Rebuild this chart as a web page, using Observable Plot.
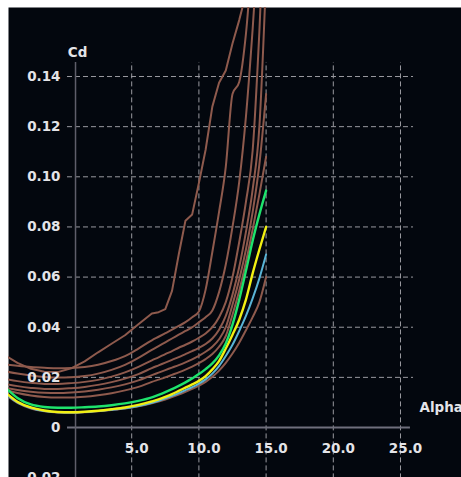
<!DOCTYPE html>
<html>
<head>
<meta charset="utf-8">
<script src="https://cdn.jsdelivr.net/npm/d3@7"></script>
<script src="https://cdn.jsdelivr.net/npm/@observablehq/plot@0.6"></script>
<style>
  html, body { margin: 0; padding: 0; background: #ffffff; }
</style>
</head>
<body>
<div id="chart"></div>
<script>
// ---- data ----
const alpha = [-4.5,-3.5,-2.5,-1.5,-0.5,0.5,1.5,2.5,3.5,4.5,5.5,6.5,7,7.5,8,8.5,9,9.5,10,10.5,11,11.5,12,12.5,13,13.5,14,14.5,15];

const cdA = [.0290,.0258,.0234,.0222,.0221,.0236,.0264,.0300,.0334,.0368,.0412,.0455,.0460,.0472,.0545,.0690,.0825,.0850,.0975,.1108,.1280,.1375,.1424,.1532,.1625,.1730,.1850,.2000,.2150];
const cdB = [.0252,.0246,.0241,.0238,.0236,.0237,.0241,.0250,.0265,.0285,.0315,.0348,.0362,.0376,.0390,.0405,.0420,.0440,.0463,.0550,.0700,.0860,.1040,.1330,.1378,.1570,.1900,.2200,.2500];
const cdC = [.0225,.0215,.0207,.0201,.0199,.0200,.0205,.0215,.0230,.0250,.0278,.0310,.0325,.0340,.0355,.0370,.0385,.0400,.0420,.0440,.0467,.0540,.0650,.0800,.0980,.1240,.1590,.2000,.2500];
const cdD = [.0195,.0185,.0178,.0174,.0174,.0177,.0182,.0190,.0203,.0220,.0242,.0268,.0280,.0293,.0305,.0318,.0330,.0343,.0358,.0375,.0400,.0440,.0500,.0600,.0740,.0900,.1105,.1580,.2200];
const cdE = [.0175,.0165,.0158,.0154,.0154,.0157,.0162,.0170,.0181,.0195,.0213,.0237,.0248,.0259,.0270,.0281,.0293,.0305,.0318,.0333,.0355,.0390,.0445,.0530,.0640,.0780,.0950,.1200,.1800];
const cdF = [.0160,.0150,.0143,.0139,.0138,.0140,.0144,.0151,.0160,.0172,.0188,.0209,.0219,.0229,.0239,.0249,.0260,.0272,.0286,.0302,.0322,.0352,.0400,.0490,.0590,.0710,.0860,.1050,.1330];
const cdH = [.0152,.0138,.0128,.0122,.0120,.0120,.0123,.0129,.0137,.0148,.0162,.0182,.0191,.0200,.0210,.0220,.0231,.0243,.0257,.0273,.0293,.0322,.0365,.0450,.0545,.0660,.0790,.0930,.1080];
const cdG = [.0138,.0098,.0076,.0065,.0060,.0059,.0061,.0065,.0070,.0076,.0085,.0097,.0104,.0112,.0121,.0131,.0142,.0154,.0167,.0182,.0202,.0227,.0258,.0295,.0338,.0388,.0440,.0500,.0600];
const cdCyan = [.0140,.0100,.0078,.0066,.0061,.0060,.0062,.0066,.0071,.0077,.0086,.0099,.0107,.0116,.0126,.0137,.0149,.0161,.0175,.0192,.0215,.0245,.0285,.0330,.0385,.0445,.0515,.0595,.0690];
const cdYellow = [.0145,.0103,.0080,.0068,.0062,.0061,.0063,.0067,.0073,.0080,.0090,.0104,.0112,.0122,.0133,.0146,.0159,.0172,.0186,.0205,.0232,.0265,.0315,.0370,.0430,.0510,.0615,.0710,.0800];
const cdGreen = [.0165,.0118,.0092,.0082,.0079,.0079,.0081,.0084,.0089,.0096,.0106,.0120,.0130,.0141,.0153,.0166,.0180,.0196,.0213,.0233,.0256,.0288,.0335,.0410,.0510,.0625,.0745,.0850,.0945];

const xTicks = [5, 10, 15, 20, 25];
const xTickLabels = ["5.0", "10.0", "15.0", "20.0", "25.0"];
const yTicks = [-0.02, 0, 0.02, 0.04, 0.06, 0.08, 0.10, 0.12, 0.14];
const yTickLabels = ["-0.02", "0", "0.02", "0.04", "0.06", "0.08", "0.10", "0.12", "0.14"];
const yGrid = [0.02, 0.04, 0.06, 0.08, 0.10, 0.12, 0.14];

// ---- layout/style constants ----
const xDomain = [-4.1667, 29.539];
const yDomain = [-0.019944, 0.167531];
const yAxisAt = 0.82;       // where the vertical axis crosses
const gridTop = 0.1456;
const gridLeft = 0.223, gridRight = 25.97, axisRight = 25.74;

const bg = "#03070e";
const brown = "#8e5a4d";
const font = "DejaVu Sans";

const toRows = (name, cds) => cds.map((c, i) => ({series: name, alpha: alpha[i], cd: c}));
const brownRows = [
  ...toRows("G", cdG), ...toRows("H", cdH), ...toRows("F", cdF), ...toRows("E", cdE),
  ...toRows("D", cdD), ...toRows("C", cdC), ...toRows("B", cdB)
];
const rowsA = toRows("A", cdA);
const cyanRows = toRows("cyan", cdCyan);
const yellowRows = toRows("yellow", cdYellow);
const greenRows = toRows("green", cdGreen);

const chart = Plot.plot({
  width: 461,
  height: 477,
  marginTop: 7,
  marginLeft: 8,
  marginRight: 0,
  marginBottom: 0,
  style: {background: "#ffffff", fontFamily: font},
  x: {domain: xDomain, axis: null},
  y: {domain: yDomain, axis: null},
  marks: [
    Plot.frame({fill: bg, stroke: "none"}),
    // grid
    Plot.ruleY(yGrid, {x1: gridLeft, x2: gridRight, stroke: "#9a9aa0", strokeWidth: 1, strokeDasharray: "5,3"}),
    Plot.ruleX(xTicks, {y1: -0.0205, y2: gridTop, stroke: "#9a9aa0", strokeWidth: 1, strokeDasharray: "5,3"}),
    // axes
    Plot.ruleY([0], {x1: gridLeft, x2: axisRight, stroke: "#6f6f7c", strokeWidth: 2}),
    Plot.ruleX([yAxisAt], {y1: -0.0205, y2: gridTop, stroke: "#5e5e6a", strokeWidth: 1.5}),
    // curves
    Plot.line(brownRows, {x: "alpha", y: "cd", z: "series", stroke: brown, strokeWidth: 2, curve: "monotone-x", clip: true}),
    Plot.line(rowsA, {x: "alpha", y: "cd", stroke: brown, strokeWidth: 2, curve: "linear", clip: true}),
    Plot.line(cyanRows, {x: "alpha", y: "cd", stroke: "#5ab4d6", strokeWidth: 2, curve: "monotone-x", clip: true}),
    Plot.line(yellowRows, {x: "alpha", y: "cd", stroke: "#f2ef12", strokeWidth: 2.4, curve: "monotone-x", clip: true}),
    Plot.line(greenRows, {x: "alpha", y: "cd", stroke: "#1ee36c", strokeWidth: 2.4, curve: "monotone-x", clip: true}),
    // tick labels
    Plot.text(yTicks, {x: () => yAxisAt, y: d => d, text: (d, i) => yTickLabels[i], textAnchor: "end", dx: -15,
      fill: "#e4e4e8", fontSize: 13.5, fontWeight: "bold", fontFamily: font}),
    Plot.text(xTicks, {x: d => d, y: () => 0, text: (d, i) => xTickLabels[i], dx: 5, dy: 21,
      fill: "#e4e4e8", fontSize: 13.5, fontWeight: "bold", fontFamily: font}),
    // axis titles
    Plot.text(["Cd"], {x: () => yAxisAt, y: () => gridTop, text: d => d, dx: 2, dy: -10,
      fill: "#e4e4e8", fontSize: 13.5, fontWeight: "bold", fontFamily: font}),
    Plot.text(["Alpha"], {x: () => 25, y: () => 0, text: d => d, textAnchor: "start", dx: 19, dy: -20,
      fill: "#e4e4e8", fontSize: 13.5, fontWeight: "bold", fontFamily: font})
  ]
});
document.getElementById("chart").appendChild(chart);
</script>
</body>
</html>
